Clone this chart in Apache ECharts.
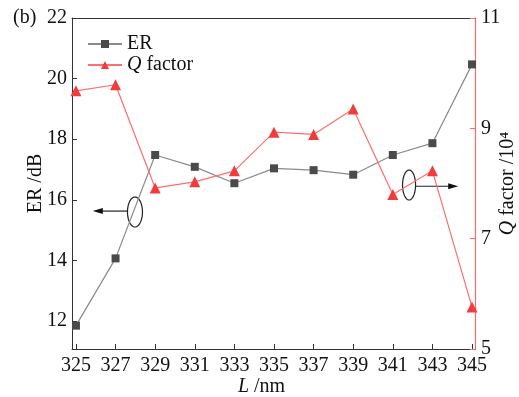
<!DOCTYPE html>
<html><head><meta charset="utf-8">
<script src="https://cdn.jsdelivr.net/npm/echarts@6/dist/echarts.min.js"></script>
<style>html,body{margin:0;padding:0;background:#fff}#c{width:519px;height:397px}</style>
</head><body><div id="c"></div>
<script>
const L = [325, 327, 329, 331, 333, 335, 337, 339, 341, 343, 345];
const er = [11.85, 14.07, 17.48, 17.09, 16.55, 17.04, 16.98, 16.83, 17.48, 17.87, 20.47];
const qf = [9.68, 9.79, 7.92, 8.03, 8.23, 8.93, 8.89, 9.35, 7.80, 8.23, 5.76];
const xTicks = [325, 327, 329, 331, 333, 335, 337, 339, 341, 343, 345];
const erTicks = [12, 14, 16, 18, 20, 22];
const qTicks = [5, 7, 9, 11];

const FONT = 'Liberation Serif';
const AX = '#333';
const RED = '#ff6a6a';
const chart = echarts.init(document.getElementById('c'));
chart.setOption({
  animation: false,
  textStyle: {fontFamily: FONT},
  grid: {left: 72, right: 44, top: 18, bottom: 48, outerBoundsMode: 'none', containLabel: false},
  legend: {
    orient: 'vertical', left: 82, top: 29, itemWidth: 34, itemHeight: 10, itemGap: 1,
    textStyle: {fontFamily: FONT, fontSize: 20, lineHeight: 20, color: '#111', rich: {i: {fontStyle: 'italic', fontFamily: FONT, fontSize: 20, lineHeight: 20}}},
    formatter: n => n === 'Q factor' ? '{i|Q} factor' : n,
    data: ['ER', 'Q factor']
  },
  xAxis: [{
    type: 'value', min: 324.8, max: 345.15,
    name: '{i|L} /nm', nameLocation: 'middle', nameGap: 28, nameMoveOverlap: false,
    nameTextStyle: {fontFamily: FONT, fontSize: 20, color: '#111', padding: [0, 24, 0, 0], rich: {i: {fontStyle: 'italic', fontFamily: FONT, fontSize: 20}}},
    axisLine: {lineStyle: {color: AX, width: 1}},
    axisTick: {inside: true, length: 5, customValues: xTicks, lineStyle: {color: AX}},
    axisLabel: {customValues: xTicks, fontFamily: FONT, fontSize: 20, color: '#111', margin: 7},
    splitLine: {show: false}
  }, {
    type: 'value', position: 'top', min: 324.8, max: 345.15,
    axisLine: {show: true, lineStyle: {color: AX, width: 1}},
    axisTick: {show: false}, axisLabel: {show: false}, splitLine: {show: false}
  }],
  yAxis: [{
    type: 'value', min: 11.08, max: 22, position: 'left',
    name: 'ER /dB', nameLocation: 'middle', nameGap: 26, nameRotate: 90, nameMoveOverlap: false,
    nameTextStyle: {fontFamily: FONT, fontSize: 20, color: '#111'},
    axisLine: {show: true, lineStyle: {color: AX, width: 1}},
    axisTick: {inside: true, length: 5, customValues: erTicks, lineStyle: {color: AX}},
    axisLabel: {customValues: erTicks, fontFamily: FONT, fontSize: 20, color: '#111', margin: 5},
    splitLine: {show: false}
  }, {
    type: 'value', min: 5, max: 11, position: 'right',
    name: '{i|Q} factor /10⁴', nameLocation: 'middle', nameGap: 23, nameRotate: 90, nameMoveOverlap: false,
    nameTextStyle: {fontFamily: FONT, fontSize: 20, color: '#111', rich: {i: {fontStyle: 'italic', fontFamily: FONT, fontSize: 20}}},
    axisLine: {show: true, lineStyle: {color: RED, width: 1.2}},
    axisTick: {inside: true, length: 5, customValues: qTicks, lineStyle: {color: RED}},
    axisLabel: {customValues: qTicks, fontFamily: FONT, fontSize: 20, color: '#111', margin: 6},
    splitLine: {show: false}
  }],
  series: [{
    name: 'ER', type: 'line', yAxisIndex: 0, xAxisIndex: 0,
    data: L.map((x, i) => [x, er[i]]),
    symbol: 'rect', symbolSize: 8,
    lineStyle: {color: '#8a8a8a', width: 1.2},
    itemStyle: {color: '#4a4a4a'}
  }, {
    name: 'Q factor', type: 'line', yAxisIndex: 1, xAxisIndex: 0,
    data: L.map((x, i) => [x, qf[i]]),
    symbol: 'triangle', symbolSize: 11,
    lineStyle: {color: '#ff6e6e', width: 1.2},
    itemStyle: {color: '#f23c3c'}
  }]
});

// annotations (ellipses + arrows) anchored in data coordinates of the ER axis
const notes = [
  {c: [327.98, 15.6], rx: 7.5, ry: 15, from: [327.63, 15.63], to: [325.85, 15.63]},
  {c: [341.82, 16.49], rx: 6.5, ry: 15, from: [342.12, 16.45], to: [344.3, 16.45]}
];
const g = [{type: 'text', left: 13, top: 8, style: {text: '(b)', font: '20px "Liberation Serif"', fill: '#111'}}];
notes.forEach(n => {
  const c = chart.convertToPixel({xAxisIndex: 0, yAxisIndex: 0}, n.c);
  const a = chart.convertToPixel({xAxisIndex: 0, yAxisIndex: 0}, n.from);
  const b = chart.convertToPixel({xAxisIndex: 0, yAxisIndex: 0}, n.to);
  const pts = [];
  for (let k = 0; k < 48; k++) { const t = k / 48 * Math.PI * 2; pts.push([c[0] + n.rx * Math.cos(t), c[1] + n.ry * Math.sin(t)]); }
  g.push({type: 'polygon', shape: {points: pts}, style: {fill: 'none', stroke: '#222', lineWidth: 1.2}});
  const dir = Math.sign(b[0] - a[0]);
  g.push({type: 'line', shape: {x1: a[0], y1: a[1], x2: b[0] - dir * 6, y2: b[1]}, style: {stroke: '#222', lineWidth: 1.2}});
  g.push({type: 'polygon', shape: {points: [[b[0], b[1]], [b[0] - dir * 10, b[1] - 3], [b[0] - dir * 10, b[1] + 3]]}, style: {fill: '#111'}});
});
chart.setOption({graphic: g});
</script></body></html>
